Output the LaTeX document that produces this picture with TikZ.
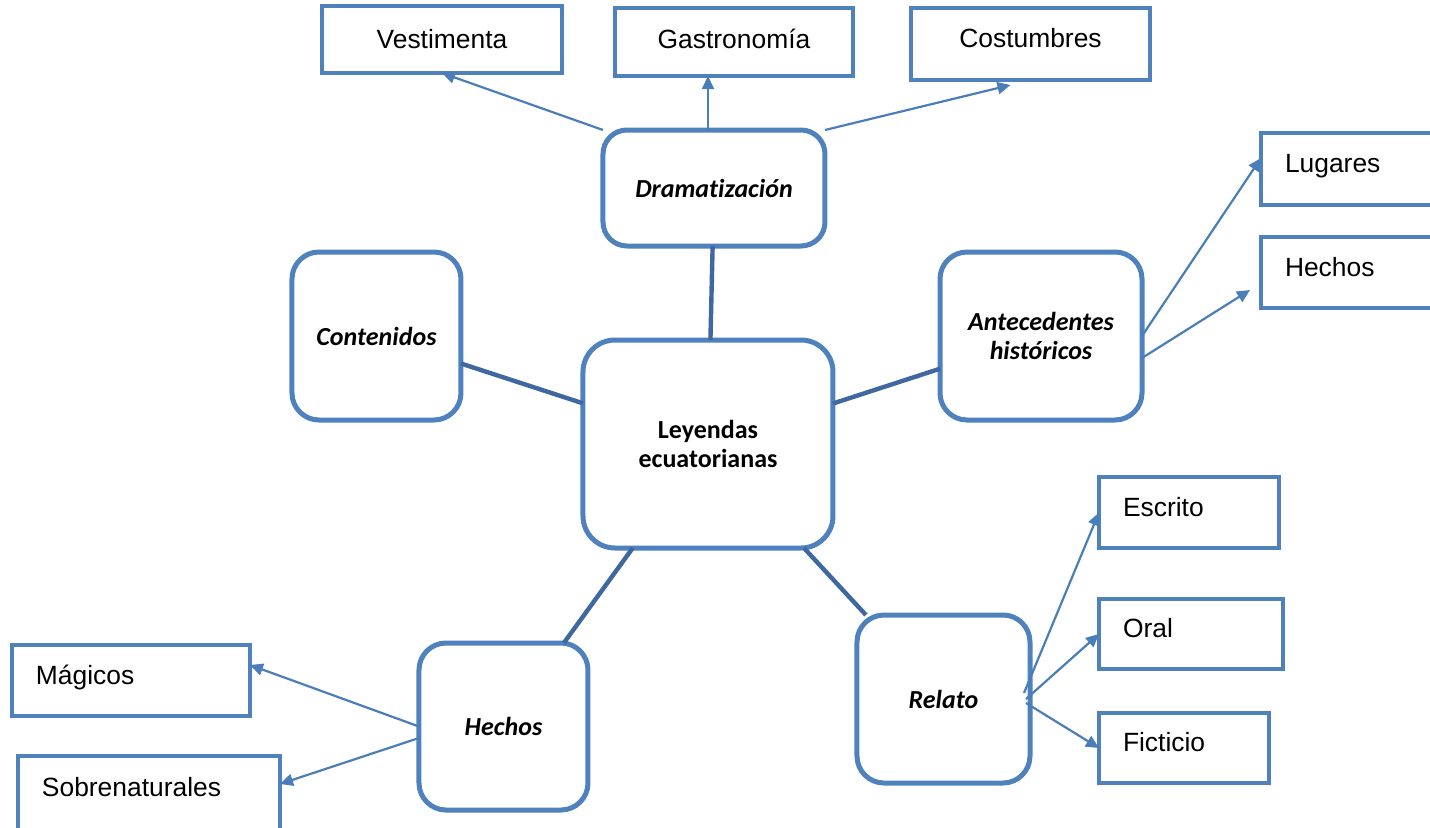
\documentclass[tikz,border=0pt]{standalone}
\usepackage{fontspec}
\usepackage{tikz}
\usetikzlibrary{positioning}
\usetikzlibrary{arrows.meta}
\tikzset{>={Triangle[width=6pt,length=6.5pt]}}
\newfontfamily\arialfont{Liberation Sans}
\newfontfamily\calibrifont[Ligatures=NoCommon]{Carlito}
\definecolor{boxblue}{RGB}{79,129,189}
\definecolor{spokeblue}{RGB}{64,104,160}
\definecolor{linkblue}{RGB}{74,126,187}

\begin{document}
\begin{tikzpicture}[mainbox/.style={rectangle, rounded corners=13.5pt, draw=boxblue, line width=2.5pt, outer sep=0pt, align=center, font=\calibrifont\fontsize{13}{14.5}\selectfont\bfseries\itshape, minimum width=84.5pt, minimum height=84pt}, leaf/.style={rectangle, draw=boxblue, line width=2pt, outer sep=0pt, align=left, inner xsep=12pt, inner ysep=0pt, text height=10pt, text depth=6.5pt, minimum height=35.5pt, font=\arialfont\fontsize{13.2}{15}\selectfont}, topleaf/.style={leaf, align=center}, spoke/.style={draw=spokeblue, line width=2.2pt}, link/.style={draw=linkblue, line width=1.1pt}]

    \path[use as bounding box, clip] (-354pt,-191.5pt) rectangle (361pt,222pt);

    %Nodes
    \node[mainbox, rounded corners=16pt, minimum width=125pt, minimum height=104pt, font=\calibrifont\fontsize{13}{14.5}\selectfont\bfseries](ley) at (0,0){Leyendas\\ecuatorianas};
    \node[mainbox, rounded corners=12pt, minimum width=111pt, minimum height=58pt](dram)[above=47pt of ley, xshift=3pt]{Dramatización};
    \node[mainbox](cont)[left=61pt of ley, yshift=54pt]{Contenidos};
    \node[mainbox, minimum width=101pt](ant)[right=53.5pt of ley, yshift=54pt]{Antecedentes\\históricos};
    \node[mainbox, minimum height=83.5pt](hec)[below=47.5pt of ley, xshift=-102.25pt]{Hechos};
    \node[mainbox, minimum width=86.5pt](rel)[below=33.5pt of ley, xshift=117.75pt]{Relato};

    \node[topleaf, text width=96pt, minimum height=33.5pt, text depth=1pt](ves)[above=28.5pt of dram, xshift=-136pt]{Vestimenta};
    \node[topleaf, text width=95pt, minimum height=34pt, text depth=3.5pt](gas)[above=27pt of dram, xshift=10pt]{Gastronomía};
    \node[topleaf, text width=95.5pt, minimum height=36pt](cos)[above=25pt of dram, xshift=158.25pt]{Costumbres};

    \node[leaf, text width=76pt, minimum height=36pt](lug)[right=59.5pt of ant, yshift=83.5pt]{Lugares};
    \node[leaf, text width=76pt](hch)[right=59.5pt of ant, yshift=31.75pt]{Hechos};

    \node[leaf, text width=66pt](esc)[right=34.5pt of rel, yshift=93.25pt]{Escrito};
    \node[leaf, text width=68pt, minimum height=35pt](ora)[right=34.5pt of rel, yshift=32.5pt]{Oral};
    \node[leaf, text width=61pt, minimum height=35pt](fic)[right=34.5pt of rel, yshift=-24.5pt]{Ficticio};

    \node[leaf, text width=95pt](mag)[left=84.5pt of hec, yshift=23pt]{Mágicos};
    \node[leaf, text width=107pt, minimum height=37pt](sob)[left=69.5pt of hec, yshift=-33.25pt]{Sobrenaturales};

    %Lines
    \draw[spoke] (dram) -- (ley);
    \draw[spoke] (cont) -- (ley);
    \draw[spoke] (ley) -- (ant);
    \draw[spoke] (ley) -- (hec);
    \draw[spoke] (ley) -- (rel);

    \draw[->, link] (dram.north west) -- (ves.south);
    \draw[->, link] ([xshift=-3pt]dram.north) -- ([xshift=-3pt]dram.north |- gas.south);
    \draw[->, link] (dram.north east) -- ([xshift=-10pt, yshift=-2.5pt]cos.south);
    \draw[->, link] (ant.east) -- ([yshift=5.5pt]lug.west);
    \draw[->, link] ([yshift=-11pt]ant.east) -- ([xshift=-5.5pt, yshift=-8.75pt]hch.west);
    \draw[->, link] ([xshift=-3pt, yshift=3pt]rel.east) -- (esc.west);
    \draw[->, link] ([xshift=-2pt]rel.east) -- (ora.west);
    \draw[->, link] ([xshift=-2pt, yshift=-2pt]rel.east) -- (fic.west);
    \draw[->, link] (hec.west) -- ([yshift=7.75pt]mag.east);
    \draw[->, link] ([yshift=-5.75pt]hec.west) -- ([yshift=4.5pt]sob.east);

\end{tikzpicture}
\end{document}
